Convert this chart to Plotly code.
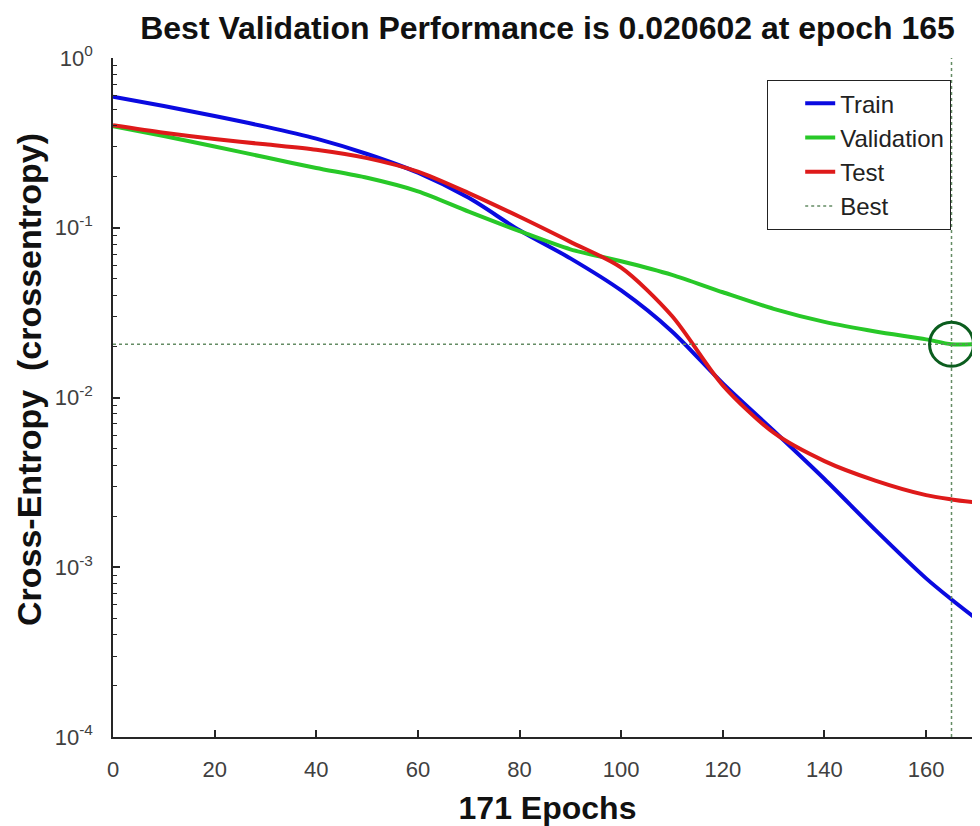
import plotly.graph_objects as go

# ---- data ----
epochs = [0, 10, 20, 30, 40, 50, 60, 70, 80, 90, 100, 110, 120, 130, 140, 150, 160, 165, 171]
train = [0.592, 0.521, 0.455, 0.394, 0.335, 0.272, 0.211, 0.150, 0.0966, 0.066, 0.0427,
         0.0245, 0.0121, 0.00637, 0.00331, 0.00166, 0.00086, 0.000646, 0.000468]
validation = [0.396, 0.347, 0.301, 0.260, 0.225, 0.197, 0.164, 0.1245, 0.0955, 0.0746, 0.0635,
              0.0528, 0.0417, 0.0333, 0.0279, 0.0245, 0.0220, 0.020602, 0.0207]
test = [0.402, 0.363, 0.333, 0.310, 0.288, 0.257, 0.214, 0.160, 0.116, 0.0826, 0.0582,
        0.0302, 0.0118, 0.0062, 0.00422, 0.00324, 0.00266, 0.00251, 0.00238]
best_epoch = 165
best_perf = 0.020602
n_epochs = 171

x_tick_vals = [0, 20, 40, 60, 80, 100, 120, 140, 160]
y_tick_vals = [1e-4, 1e-3, 1e-2, 1e-1, 1]
y_tick_text = ["10<sup>-4</sup>", "10<sup>-3</sup>", "10<sup>-2</sup>", "10<sup>-1</sup>", "10<sup>0</sup>"]
y_min, y_max = 1e-4, 1

title_text = "Best Validation Performance is 0.020602 at epoch 165"
x_title = "171 Epochs"
y_title = "Cross-Entropy  (crossentropy)"

# ---- styles ----
FONT = "Liberation Sans, Arial, sans-serif"
C_TRAIN = "#0a0ae0"
C_VAL = "#28c828"
C_TEST = "#de1a1a"
C_BEST = "rgb(100,140,100)"
C_CIRCLE = "#0b5d1e"
W, H = 980, 826
ML, MR, MT, MB = 105, 6, 50, 97

fig = go.Figure()
fig.add_trace(go.Scatter(x=epochs, y=train, mode="lines", name="Train",
                         line=dict(color=C_TRAIN, width=4, shape="spline", smoothing=0.8)))
fig.add_trace(go.Scatter(x=epochs, y=validation, mode="lines", name="Validation",
                         line=dict(color=C_VAL, width=4, shape="spline", smoothing=0.8)))
fig.add_trace(go.Scatter(x=epochs, y=test, mode="lines", name="Test",
                         line=dict(color=C_TEST, width=4, shape="spline", smoothing=0.8)))
fig.add_trace(go.Scatter(x=[best_epoch, best_epoch, None, 0, n_epochs],
                         y=[y_min, y_max, None, best_perf, best_perf],
                         mode="lines", name="Best",
                         line=dict(color=C_BEST, width=1.5, dash="dot")))
fig.add_trace(go.Scatter(x=[best_epoch], y=[best_perf], mode="markers", showlegend=False,
                         marker=dict(symbol="circle-open", size=44,
                                     line=dict(color=C_CIRCLE, width=3), color=C_CIRCLE)))

minor_vals = [k * 10 ** d for d in range(-4, 0) for k in range(2, 10)]

plot_w = W - ML - MR
plot_h = H - MT - MB

fig.update_layout(
    width=W, height=H,
    paper_bgcolor="white", plot_bgcolor="white",
    margin=dict(l=ML, r=MR, t=MT, b=MB, autoexpand=False),
    font=dict(family=FONT, color="#404040", size=22),
    title=dict(text="<b>" + title_text + "</b>", x=0.5, xref="paper", xanchor="center",
               y=1 - 20 / H, yref="container", yanchor="middle",
               font=dict(family=FONT, size=32, color="#111111")),
    showlegend=True,
    legend=dict(x=(759 - ML) / plot_w, xanchor="left", y=(H - MB - 72) / plot_h, yanchor="top",
                bgcolor="white", bordercolor="#222222", borderwidth=1.2,
                font=dict(family=FONT, size=24, color="#222222"),
                tracegroupgap=0, indentation=32),
    xaxis=dict(range=[0, n_epochs], tickvals=x_tick_vals, ticks="inside", ticklen=7,
               tickwidth=1.5, tickcolor="#262626", showline=True, linecolor="#262626",
               linewidth=1.5, showgrid=False, zeroline=False, ticklabelstandoff=12,
               automargin=False,
               tickfont=dict(family=FONT, size=22, color="#404040"),
               title=dict(text="<b>" + x_title + "</b>", standoff=15,
                          font=dict(family=FONT, size=32, color="#111111"))),
    yaxis=dict(type="log", range=[-4, 0], tickvals=y_tick_vals, ticktext=y_tick_text,
               ticks="inside", ticklen=7, tickwidth=1.5, tickcolor="#262626",
               showline=True, linecolor="#262626", linewidth=1.5, showgrid=False,
               zeroline=False, ticklabelstandoff=14, automargin=False,
               tickfont=dict(family=FONT, size=22, color="#404040"),
               minor=dict(tickvals=minor_vals, ticks="inside", ticklen=4, tickwidth=1,
                          tickcolor="#262626", showgrid=False)),
    annotations=[dict(text="<b>" + y_title + "</b>", textangle=-90, showarrow=False,
                      xref="paper", yref="paper", x=(21 - ML) / plot_w,
                      y=(H - MB - 372) / plot_h, xanchor="center", yanchor="middle",
                      font=dict(family=FONT, size=34, color="#111111"))],
)

fig.write_html("out.html")
